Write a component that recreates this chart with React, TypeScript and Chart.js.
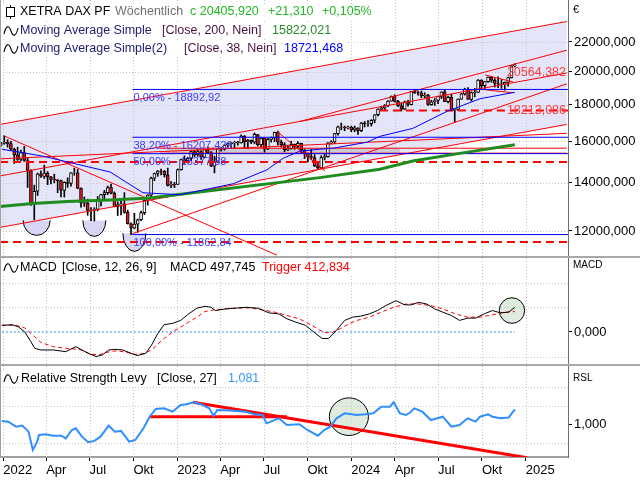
import React, { useEffect, useRef } from "react";
import { Chart, registerables } from "chart.js";

Chart.register(...registerables);

const FONT = '"Liberation Sans", Arial, sans-serif';

/* ---------------- time axis ---------------- */
const DAY0 = Date.UTC(2022, 0, 1);
const dayOf = (iso: string) => (Date.parse(iso + "T00:00:00Z") - DAY0) / 86400000;

const tickDates = [
  "2022-01-01", "2022-04-01", "2022-07-01", "2022-10-01",
  "2023-01-01", "2023-04-01", "2023-07-01", "2023-10-01",
  "2024-01-01", "2024-04-01", "2024-07-01", "2024-10-01", "2025-01-01",
];
const tickLabels = ["2022", "Apr", "Jul", "Okt", "2023", "Apr", "Jul", "Okt", "2024", "Apr", "Jul", "Okt", "2025"];
const tickDays = tickDates.map(dayOf);
const xMinDay = -6.9;
const xMaxDay = 1184.6;

/* ---------------- weekly candles (XETRA DAX PF) ---------------- */
const firstWeek = "2021-12-27";
const opens = [
  15800,
  15900, 15950, 15880, 15600, 15320, 15100, 15430, 15040, 14570, 13100, 13630, 14410, 14300, 14440, 14280, 14160, 14140, 14100, 13670, 14030, 13980, 14460, 14460, 13760, 13130, 13120, 12810, 12830, 12860, 13250, 13480, 13570, 13800, 13540, 12970, 13050, 13090, 12740, 12280, 12110, 12270, 12440, 12730, 13240, 13460, 14220, 14430, 14540, 14530, 14370, 13890, 13940,
  13930, 14610, 15090, 15030, 15150, 15480, 15310, 15480, 15210, 15580, 15430, 14770, 14960, 15630, 15600, 15810, 15880, 15920, 15960, 15910, 16270, 15980, 16050, 15950, 16350, 15830, 16150, 15600, 16100, 16180, 16470, 15950, 15830, 15570, 15630, 15840, 15740, 15890, 15560, 15390, 15230, 15190, 14800, 14690, 15190, 15230, 15920, 15970, 16400, 16760, 16750, 16700,
  16750, 16590, 16700, 16560, 16960, 16920, 16930, 17120, 17420, 17730, 17810, 17940, 18200, 18490, 18180, 17930, 17740, 18160, 18000, 18770, 18700, 18690, 18500, 18550, 18000, 18160, 18240, 18470, 18750, 18170, 18420, 17660, 17720, 18320, 18630, 18900, 18300, 18700, 18720, 19470, 19120, 19370, 19650, 19460, 19250, 19210, 19210, 19320, 19620, 20390,
];
const highs = [
  15950,
  16285, 16080, 16000, 15650, 15700, 15550, 15740, 15200, 14600, 13900, 14450, 14550, 14820, 14520, 14300, 14400, 14150, 14130, 14050, 14230, 14470, 14680, 14620, 13780, 13380, 13290, 12940, 12930, 13400, 13500, 13670, 13860, 13950, 13600, 13180, 13200, 13570, 12830, 12320, 12700, 12470, 12790, 13260, 13480, 14260, 14450, 14570, 14640, 14570, 14680, 14060, 14030,
  14640, 15100, 15270, 15200, 15520, 15540, 15580, 15530, 15580, 15710, 15480, 15250, 15650, 15690, 15830, 15920, 15930, 16000, 16000, 16330, 16300, 16100, 16070, 16430, 16360, 16170, 16180, 16150, 16220, 16480, 16530, 16060, 15930, 15800, 16000, 15860, 15990, 15900, 15590, 15400, 15590, 15330, 14990, 15280, 15350, 15930, 16030, 16410, 16800, 16960, 16800, 16800,
  16800, 16800, 16710, 17000, 17050, 17100, 17150, 17430, 17750, 17900, 18000, 18230, 18500, 18570, 18250, 18100, 18200, 18250, 18790, 18893, 18800, 18800, 18700, 18600, 18250, 18350, 18500, 18750, 18880, 18500, 18600, 17750, 18340, 18660, 18970, 19000, 18750, 18950, 19500, 19490, 19380, 19670, 19670, 19560, 19680, 19500, 19350, 19660, 20400, 20520,
];
const lows = [
  15750,
  15850, 15700, 15530, 14900, 15050, 15030, 15000, 13800, 13030, 12439, 13450, 14250, 14200, 13920, 13950, 14000, 13570, 13380, 13380, 13800, 13850, 14350, 13740, 12950, 12980, 12620, 12400, 12390, 12800, 13000, 13300, 13480, 13510, 12960, 12610, 12630, 12700, 12270, 11863, 12080, 11950, 12400, 12650, 13040, 13340, 14100, 14300, 14360, 14270, 13860, 13790, 13790,
  13930, 14580, 14900, 14950, 15030, 15230, 15240, 15100, 15160, 15400, 14750, 14460, 14950, 15500, 15550, 15700, 15630, 15630, 15800, 15900, 15630, 15630, 15880, 15870, 15760, 15700, 15450, 15580, 15960, 15980, 15800, 15700, 15470, 15530, 15600, 15590, 15660, 15420, 15140, 14970, 15090, 14750, 14630, 14680, 15070, 15200, 15860, 15880, 16320, 16600, 16550, 16650,
  16500, 16500, 16350, 16500, 16750, 16780, 16800, 16980, 17350, 17650, 17700, 17880, 18190, 18150, 17880, 17630, 17700, 17900, 17980, 18650, 18550, 18400, 18400, 17950, 17960, 17950, 18050, 18350, 18170, 18100, 17630, 17020, 17660, 18300, 18550, 18300, 18200, 18450, 18700, 18950, 18950, 19330, 19330, 19040, 19000, 18960, 18850, 19100, 19600, 20300,
];
const closes = [
  15885,
  15948, 15883, 15603, 15318, 15100, 15425, 15042, 14567, 13094, 13628, 14413, 14306, 14446, 14284, 14163, 14142, 14098, 13674, 14027, 13982, 14462, 14461, 13762, 13126, 13118, 12813, 12834, 12864, 13254, 13484, 13573, 13795, 13544, 12971, 13050, 13088, 12741, 12284, 12114, 12273, 12438, 12731, 13243, 13460, 14224, 14431, 14541, 14529, 14370, 13893, 13940, 13924,
  14610, 15087, 15033, 15150, 15476, 15308, 15482, 15210, 15578, 15428, 14768, 14957, 15629, 15598, 15808, 15882, 15922, 15961, 15914, 16275, 15983, 16051, 15950, 16358, 15830, 16148, 15603, 16105, 16177, 16470, 15952, 15832, 15574, 15632, 15840, 15740, 15894, 15557, 15387, 15229, 15187, 14798, 14687, 15189, 15234, 15919, 15967, 16398, 16759, 16751, 16706, 16752,
  16594, 16705, 16555, 16961, 16918, 16927, 17117, 17419, 17735, 17814, 17936, 18206, 18492, 18175, 17930, 17737, 18161, 18001, 18773, 18704, 18693, 18498, 18557, 18002, 18163, 18235, 18475, 18748, 18172, 18418, 17661, 17723, 18322, 18633, 18907, 18302, 18700, 18720, 19474, 19121, 19374, 19657, 19464, 19255, 19215, 19211, 19323, 19626, 20385, 20406,
];
const candleDays = closes.map((_, i) => dayOf(firstWeek) + 7 * i);

/* ---------------- price panel values ---------------- */
const priceMin = 11075;
const priceMax = 25170;
const priceTicks = [12000, 14000, 16000, 18000, 20000, 22000];

const ma200Days = [-7, 62, 134, 224, 308, 385, 433, 664, 790, 859, 964, 1073];
const ma200Values = [12980, 13110, 13185, 13255, 13340, 13530, 13650, 14240, 14625, 15015, 15415, 15822];
const ma38Days = [-3, 83, 224, 293, 371, 482, 553, 587, 622, 664, 692, 763, 790, 859, 930, 1000, 1073];
const ma38Values = [15600, 15255, 14500, 13565, 13480, 13960, 14600, 15150, 15500, 15600, 15650, 15950, 16256, 16675, 17600, 18340, 18721];

const fibStartDay = 271;
const fibLevels = [18892.92, 16207.429, 15377.88, 11862.84];
const fibLabels = ["0,00% - 18892,92", "38,20% - 16207,429", "50,00% - 15377,88", "100,00% - 11862,84"];

const dashStartDays = [-7, -7, 790];
const dashLevels = [14970, 11585, 17655];

// [day1, price1, day2, price2]
const channelUpper = [-7, 16888, 1182, 23493];
const channelMid = [-7, 14317, 1182, 19919];
const channelLower = [-7, 12139, 1182, 16888];
const trendLines = [
  [4, 16256, 574, 11106],
  [271, 11900, 1182, 19236],
  [574, 16516, 675, 14547],
  [-7, 15125, 1182, 16414],
  [329, 15648, 1182, 15648],
  [329, 15402, 1182, 15402],
  [622, 17049, 1182, 21427],
];
const zoneBox = [343, 832, 15402, 15648];
const pennantTop = [1011, 19791, 1069, 19358];
const pennantBottom = [1011, 18870, 1069, 18693];

const cupDays = [70, 191, 275];
const cupPrices = [12415, 12415, 11910];

const priceNotes = [20564.382, 18213.086];

const lastClose = 20405.92;
const weekChange = 21.31;
const weekChangePct = 0.105;
const ma200Last = 15822.021;
const ma38Last = 18721.468;

/* ---------------- MACD ---------------- */
const macdMin = -650;
const macdMax = 1500;
const macdTicks = [0];
const macdDays = [-3, 19, 32, 45, 58, 66, 79, 105, 131, 152, 165, 178, 195, 208, 221, 234, 251, 268, 281, 299, 311, 324, 337, 355, 372, 389, 406, 423, 436, 445, 466, 492, 509, 535, 557, 578, 595, 613, 634, 651, 669, 682, 699, 716, 733, 750, 768, 785, 802, 824, 841, 854, 871, 888, 905, 922, 940, 957, 974, 991, 1009, 1026, 1043, 1060, 1073];
const macdValues = [134, 147, 101, 1, -199, -333, -366, -366, -399, -299, -366, -433, -499, -466, -366, -353, -366, -433, -479, -433, -266, -33, 147, 174, 234, 367, 481, 521, 501, 434, 467, 487, 501, 481, 387, 367, 267, 201, 134, 1, -133, -133, 34, 234, 301, 321, 367, 434, 534, 634, 554, 547, 601, 567, 467, 401, 334, 234, 281, 281, 367, 434, 387, 401, 498];
const trigDays = [-3, 27, 45, 62, 79, 105, 131, 148, 165, 182, 200, 217, 234, 251, 277, 294, 311, 333, 355, 372, 389, 406, 423, 441, 466, 492, 518, 544, 570, 595, 621, 647, 673, 690, 707, 725, 742, 768, 793, 819, 845, 871, 897, 922, 948, 974, 1000, 1026, 1052, 1073];
const trigValues = [134, 134, 81, -66, -213, -299, -333, -346, -366, -446, -466, -413, -386, -399, -453, -439, -366, -166, 1, 101, 201, 301, 414, 447, 467, 487, 487, 447, 401, 334, 267, 134, -13, -13, 67, 167, 234, 301, 401, 501, 567, 567, 534, 467, 367, 301, 301, 347, 401, 413];
const macdCircle = { day: 1067, value: 434, rDays: 26.6, rValue: 260 };
const macdLast = 497.745;
const triggerLast = 412.834;

/* ---------------- RSL ---------------- */
const rslMin = 0.823;
const rslMax = 1.315;
const rslTicks = [1];
const rslDays = [-3, 10, 27, 40, 53, 62, 71, 75, 88, 105, 122, 131, 144, 152, 165, 178, 191, 204, 221, 234, 247, 264, 277, 294, 307, 320, 337, 355, 372, 385, 398, 415, 432, 441, 449, 475, 509, 527, 544, 552, 578, 595, 621, 638, 660, 673, 686, 699, 716, 742, 759, 776, 793, 811, 819, 832, 845, 854, 862, 879, 897, 922, 940, 957, 974, 991, 1000, 1017, 1026, 1043, 1060, 1073];
const rslValues = [1.018, 1.014, 0.987, 0.993, 0.96, 0.861, 0.906, 0.942, 0.946, 0.938, 0.938, 0.924, 0.969, 0.978, 0.933, 0.903, 0.91, 0.933, 0.993, 0.96, 0.964, 0.906, 0.915, 0.978, 1.041, 1.083, 1.086, 1.068, 1.104, 1.108, 1.119, 1.108, 1.086, 1.046, 1.077, 1.074, 1.068, 1.054, 1.05, 1.005, 1.032, 0.996, 1.0, 0.969, 0.938, 0.969, 0.987, 1.032, 1.059, 1.05, 1.054, 1.059, 1.095, 1.095, 1.119, 1.059, 1.05, 1.065, 1.086, 1.068, 1.023, 1.041, 0.987, 0.996, 1.032, 1.014, 1.041, 1.054, 1.041, 1.032, 1.036, 1.081];
const rslLines = [
  [307, 1.041, 595, 1.041],
  [398, 1.119, 1099, 0.819],
];
const rslCircle = { day: 725, value: 1.041, rDays: 41, rValue: 0.1016 };
const rslLast = 1.081;

/* ---------------- helpers ---------------- */
const fmt = (v: number, d: number) => v.toFixed(d).replace(".", ",");
const zip = (xs: number[], ys: number[]) => xs.map((x, i) => ({ x, y: ys[i] }));
const seg = (s: number[]) => [{ x: s[0], y: s[1] }, { x: s[2], y: s[3] }];

function lineDs(data: any[], color: string, width: number, dash: number[] = [], extra: any = {}) {
  return {
    type: "line", data, borderColor: color, borderWidth: width, borderDash: dash,
    pointRadius: 0, fill: false, tension: 0, ...extra,
  };
}

function xScaleCfg(show: boolean): any {
  return {
    type: "linear", min: xMinDay, max: xMaxDay, display: show, offset: false,
    afterBuildTicks: (s: any) => { s.ticks = tickDays.map((v) => ({ value: v })); },
    afterFit: (s: any) => { s.paddingLeft = 0; s.paddingRight = 0; if (show) s.height = 23; },
    grid: { display: true, drawOnChartArea: false, drawTicks: true, tickLength: 4, color: "#000", tickColor: "#000" },
    border: { display: true, color: "#a0a0a0", width: 2 },
    ticks: {
      autoSkip: false, maxRotation: 0, minRotation: 0, align: "start", padding: 2, labelOffset: 0,
      color: "#000", font: { family: FONT, size: 13 },
      callback: (_v: any, i: number) => tickLabels[i],
    },
  };
}

function yScaleCfg(type: string, min: number, max: number, ticks: number[]): any {
  return {
    type, position: "right", min, max,
    afterBuildTicks: (s: any) => { s.ticks = ticks.map((v) => ({ value: v })); },
    afterFit: (s: any) => { s.width = 72; s.paddingTop = 0; s.paddingBottom = 0; },
    grid: { display: true, drawOnChartArea: false, drawTicks: true, tickLength: 4, color: "#000", tickColor: "#000" },
    border: { display: true, color: "#707070", width: 1 },
    ticks: { padding: 2, color: "#000", font: { family: FONT, size: 13 }, callback: (v: any) => fmt(Number(v), 3) },
  };
}

function baseOptions(yCfg: any, showX: boolean): any {
  return {
    responsive: false,
    animation: false,
    devicePixelRatio: 1,
    events: [],
    layout: { padding: 0 },
    plugins: {
      legend: { display: false },
      tooltip: { enabled: false },
      title: { display: false },
      filler: { drawTime: "beforeDatasetsDraw", propagate: false },
    },
    scales: { x: xScaleCfg(showX), y: yCfg },
  };
}

function drawGrid(chart: any, yLevels: number[]) {
  const { ctx, chartArea: a, scales } = chart;
  ctx.save();
  ctx.strokeStyle = "#c6c6c6";
  ctx.lineWidth = 1;
  ctx.setLineDash([1, 2]);
  ctx.beginPath();
  for (const d of tickDays) {
    const px = Math.round(scales.x.getPixelForValue(d)) + 0.5;
    ctx.moveTo(px, a.top);
    ctx.lineTo(px, a.bottom);
  }
  for (const v of yLevels) {
    const py = Math.round(scales.y.getPixelForValue(v)) + 0.5;
    ctx.moveTo(a.left, py);
    ctx.lineTo(a.right, py);
  }
  ctx.stroke();
  ctx.restore();
}

function drawLeftBorder(chart: any) {
  const { ctx, chartArea: a } = chart;
  ctx.save();
  ctx.strokeStyle = "#a0a0a0";
  ctx.lineWidth = 1;
  ctx.beginPath();
  ctx.moveTo(0.5, a.top);
  ctx.lineTo(0.5, a.bottom);
  ctx.stroke();
  ctx.restore();
}

function drawWave(ctx: any, x: number, y: number) {
  ctx.save();
  ctx.strokeStyle = "#000";
  ctx.lineWidth = 1.1;
  ctx.beginPath();
  ctx.moveTo(x, y + 3);
  ctx.bezierCurveTo(x + 2, y - 6, x + 5, y - 6, x + 7, y);
  ctx.bezierCurveTo(x + 9, y + 6, x + 12, y + 6, x + 14, y - 3);
  ctx.stroke();
  ctx.restore();
}

function drawCandleIcon(ctx: any, x: number, y: number) {
  ctx.save();
  ctx.strokeStyle = "#000";
  ctx.lineWidth = 1;
  ctx.beginPath();
  ctx.moveTo(x + 4.5, y - 7);
  ctx.lineTo(x + 4.5, y + 7);
  ctx.stroke();
  ctx.fillStyle = "#fff";
  ctx.fillRect(x + 0.5, y - 4.5, 8, 9);
  ctx.strokeRect(x + 0.5, y - 4.5, 8, 9);
  ctx.restore();
}

type Run = { x: number; text: string; color: string };
function drawLegendRow(ctx: any, y: number, runs: Run[], icon: "candle" | "wave") {
  ctx.save();
  ctx.font = `12.5px ${FONT}`;
  ctx.textBaseline = "middle";
  let end = 0;
  runs.forEach((r) => { end = Math.max(end, r.x + ctx.measureText(r.text).width); });
  ctx.fillStyle = "#fff";
  ctx.fillRect(1, y - 8, end + 2, 16);
  if (icon === "candle") drawCandleIcon(ctx, 6, y); else drawWave(ctx, 4, y);
  runs.forEach((r) => { ctx.fillStyle = r.color; ctx.fillText(r.text, r.x, y); });
  ctx.restore();
}

function drawEllipse(chart: any, c: any) {
  const { ctx, scales } = chart;
  const cx = scales.x.getPixelForValue(c.day);
  const cy = scales.y.getPixelForValue(c.value);
  const rx = Math.abs(scales.x.getPixelForValue(c.day + c.rDays) - cx);
  const ry = Math.abs(scales.y.getPixelForValue(c.value + c.rValue) - cy);
  ctx.save();
  ctx.beginPath();
  ctx.ellipse(cx, cy, rx, ry, 0, 0, Math.PI * 2);
  ctx.fillStyle = "rgba(200,222,200,0.6)";
  ctx.fill();
  ctx.strokeStyle = "#000";
  ctx.lineWidth = 1;
  ctx.stroke();
  ctx.restore();
}

function sideLabel(ctx: any, text: string, y: number, size: number) {
  ctx.save();
  ctx.font = `${size}px ${FONT}`;
  ctx.fillStyle = "#000";
  ctx.textBaseline = "middle";
  ctx.textAlign = "left";
  ctx.fillText(text, 573, y);
  ctx.restore();
}

/* ---------------- price chart ---------------- */
const cupRx = [13.5, 11.5, 11.5];
const cupRy = [15, 16, 18];

const pricePlugin = {
  id: "pricePlugin",
  beforeDatasetsDraw(chart: any) {
    const { ctx, scales } = chart;
    const { x, y } = scales;
    drawGrid(chart, priceTicks);
    ctx.save();
    const zx1 = x.getPixelForValue(zoneBox[0]);
    const zx2 = x.getPixelForValue(zoneBox[1]);
    const zy1 = y.getPixelForValue(zoneBox[3]);
    const zy2 = y.getPixelForValue(zoneBox[2]);
    ctx.fillStyle = "rgba(170,170,170,0.45)";
    ctx.fillRect(zx1, zy1, zx2 - zx1, zy2 - zy1);
    cupDays.forEach((d, i) => {
      const cx = x.getPixelForValue(d);
      const cy = y.getPixelForValue(cupPrices[i]);
      ctx.beginPath();
      ctx.ellipse(cx, cy, cupRx[i], cupRy[i], 0, 0, Math.PI);
      ctx.closePath();
      ctx.fillStyle = "#d6d6f4";
      ctx.fill();
      ctx.beginPath();
      ctx.ellipse(cx, cy, cupRx[i], cupRy[i], 0, 0, Math.PI);
      ctx.strokeStyle = "#000";
      ctx.lineWidth = 1;
      ctx.stroke();
    });
    ctx.restore();
  },
  afterDatasetsDraw(chart: any) {
    const { ctx, chartArea: a, scales } = chart;
    const { x, y } = scales;
    ctx.save();
    ctx.font = `11px ${FONT}`;
    ctx.textBaseline = "top";
    ctx.textAlign = "left";
    ctx.fillStyle = "#3a3aff";
    fibLevels.forEach((v, i) => {
      ctx.fillText(fibLabels[i], x.getPixelForValue(fibStartDay) + 1, y.getPixelForValue(v) + 3);
    });
    ctx.font = `12.5px ${FONT}`;
    ctx.textAlign = "right";
    ctx.fillStyle = "#ff3b3b";
    priceNotes.forEach((v) => {
      ctx.fillText(fmt(v, 3), a.right - 2, y.getPixelForValue(v) + 3);
    });
    ctx.restore();
  },
  afterDraw(chart: any) {
    const { ctx } = chart;
    drawLeftBorder(chart);
    drawLegendRow(ctx, 12, [
      { x: 20, text: "XETRA DAX PF", color: "#000" },
      { x: 115, text: "Wöchentlich", color: "#707070" },
      { x: 190, text: "c " + fmt(lastClose, 3), color: "#22b822" },
      { x: 268, text: "+" + fmt(weekChange, 3), color: "#22b822" },
      { x: 322, text: "+" + fmt(weekChangePct, 3) + "%", color: "#22b822" },
    ], "candle");
    drawLegendRow(ctx, 31, [
      { x: 20, text: "Moving Average Simple", color: "#1c1c70" },
      { x: 162, text: "[Close, 200, Nein]", color: "#4a1040" },
      { x: 272, text: fmt(ma200Last, 3), color: "#2a8a2a" },
    ], "wave");
    drawLegendRow(ctx, 49, [
      { x: 20, text: "Moving Average Simple(2)", color: "#1c1c70" },
      { x: 184, text: "[Close, 38, Nein]", color: "#4a1040" },
      { x: 284, text: fmt(ma38Last, 3), color: "#0000ff" },
    ], "wave");
    sideLabel(ctx, "€", 10, 11);
  },
};

function priceConfig(): any {
  const datasets: any[] = [];
  datasets.push(lineDs(zip(ma38Days, ma38Values), "#0000ff", 1));
  datasets.push(lineDs(zip(ma200Days, ma200Values), "#1f8c1f", 3));
  fibLevels.forEach((v) => datasets.push(lineDs([{ x: fibStartDay, y: v }, { x: xMaxDay, y: v }], "#0000ff", 1)));
  dashLevels.forEach((v, i) => datasets.push(lineDs([{ x: dashStartDays[i], y: v }, { x: xMaxDay, y: v }], "#ff0000", 2, [8, 5])));
  trendLines.forEach((s) => datasets.push(lineDs(seg(s), "#ff0000", 1)));
  datasets.push(lineDs(seg(channelMid), "#ff0000", 1));
  datasets.push(lineDs(seg(channelUpper), "#ff0000", 1, [], { fill: "+1", backgroundColor: "#e5e5fa" }));
  datasets.push(lineDs(seg(channelLower), "#ff0000", 1));
  datasets.push(lineDs(seg(pennantTop), "#ff0000", 1, [], { fill: "+1", backgroundColor: "rgba(175,175,235,0.55)" }));
  datasets.push(lineDs(seg(pennantBottom), "#ff0000", 1));
  datasets.push({
    type: "bar",
    data: candleDays.map((d, i) => ({ x: d, y: [opens[i], closes[i]] })),
    backgroundColor: closes.map((c, i) => (c >= opens[i] ? "#ffffff" : "#e8141c")),
    borderColor: "#000",
    borderWidth: 1,
    borderSkipped: false,
    barThickness: 3,
    grouped: false,
  });
  datasets.push({
    type: "bar",
    data: candleDays.map((d, i) => ({ x: d, y: [lows[i], highs[i]] })),
    backgroundColor: "#000",
    borderWidth: 0,
    barThickness: 1,
    grouped: false,
  });
  return {
    type: "line",
    data: { datasets },
    options: baseOptions(yScaleCfg("logarithmic", priceMin, priceMax, priceTicks), false),
    plugins: [pricePlugin],
  };
}

/* ---------------- MACD chart ---------------- */
const macdGridLevels = [-500, 500, 1000];
const macdPlugin = {
  id: "macdPlugin",
  beforeDatasetsDraw(chart: any) {
    drawGrid(chart, macdGridLevels);
    drawEllipse(chart, macdCircle);
  },
  afterDraw(chart: any) {
    const { ctx } = chart;
    drawLeftBorder(chart);
    drawLegendRow(ctx, 10, [
      { x: 20, text: "MACD", color: "#000" },
      { x: 62, text: "[Close, 12, 26, 9]", color: "#000" },
      { x: 170, text: "MACD " + fmt(macdLast, 3), color: "#000" },
      { x: 262, text: "Trigger " + fmt(triggerLast, 3), color: "#ff0000" },
    ], "wave");
    sideLabel(ctx, "MACD", 7, 10);
  },
};

function macdConfig(): any {
  const datasets: any[] = [
    lineDs(zip(macdDays, macdValues), "#000", 1),
    lineDs(zip(trigDays, trigValues), "#ff0000", 1, [4, 3]),
    lineDs([{ x: macdDays[0], y: 0 }, { x: macdDays[macdDays.length - 1], y: 0 }], "#2f8fff", 1, [2, 2]),
  ];
  return {
    type: "line",
    data: { datasets },
    options: baseOptions(yScaleCfg("linear", macdMin, macdMax, macdTicks), false),
    plugins: [macdPlugin],
  };
}

/* ---------------- RSL chart ---------------- */
const rslGridLevels = [0.9, 1.1, 1.2];
const rslPlugin = {
  id: "rslPlugin",
  beforeDatasetsDraw(chart: any) {
    drawGrid(chart, rslGridLevels);
    drawEllipse(chart, rslCircle);
  },
  afterDraw(chart: any) {
    const { ctx } = chart;
    drawLeftBorder(chart);
    drawLegendRow(ctx, 13, [
      { x: 21, text: "Relative Strength Levy", color: "#000" },
      { x: 157, text: "[Close, 27]", color: "#000" },
      { x: 228, text: fmt(rslLast, 3), color: "#3399ff" },
    ], "wave");
    sideLabel(ctx, "RSL", 12, 10);
  },
};

function rslConfig(): any {
  const datasets: any[] = [
    lineDs(zip(rslDays, rslValues), "#2f8fff", 2),
    ...rslLines.map((s) => lineDs(seg(s), "#ff0000", 3)),
  ];
  return {
    type: "line",
    data: { datasets },
    options: baseOptions(yScaleCfg("linear", rslMin, rslMax, rslTicks), true),
    plugins: [rslPlugin],
  };
}

/* ---------------- component ---------------- */
export default function App() {
  const r1 = useRef<HTMLCanvasElement>(null);
  const r2 = useRef<HTMLCanvasElement>(null);
  const r3 = useRef<HTMLCanvasElement>(null);

  useEffect(() => {
    const c1 = new Chart(r1.current as HTMLCanvasElement, priceConfig());
    const c2 = new Chart(r2.current as HTMLCanvasElement, macdConfig());
    const c3 = new Chart(r3.current as HTMLCanvasElement, rslConfig());
    return () => {
      c1.destroy();
      c2.destroy();
      c3.destroy();
    };
  }, []);

  return (
    <div style={{ position: "absolute", left: 0, top: 0, width: 640, height: 480, background: "#fff", overflow: "hidden" }}>
      <canvas ref={r1} width={640} height={256} style={{ position: "absolute", left: 0, top: 0 }} />
      <div style={{ position: "absolute", left: 0, top: 256, width: 640, height: 2, background: "#a8a8a8" }} />
      <canvas ref={r2} width={640} height={106} style={{ position: "absolute", left: 0, top: 258 }} />
      <div style={{ position: "absolute", left: 0, top: 364, width: 640, height: 2, background: "#a8a8a8" }} />
      <canvas ref={r3} width={640} height={114} style={{ position: "absolute", left: 0, top: 366 }} />
    </div>
  );
}
